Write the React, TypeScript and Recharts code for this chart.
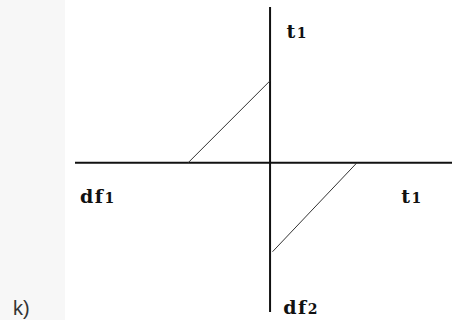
import { LineChart, Line, XAxis, YAxis, ReferenceLine, ReferenceDot, Label } from "recharts";

// upper-left segment: from the horizontal axis up to the vertical axis
const upperX = [-1.0, 0];
const upperY = [0, 1.0];
// lower-right segment: from the horizontal axis down to the vertical axis
const lowerX = [1.06, 0.03];
const lowerY = [0, -1.085];

// axis captions: main letters + small index
const captionText = ["t", "df", "t", "df"];
const captionIndex = ["1", "1", "1", "2"];
const captionX = [0.2, -2.32, 1.6, 0.16];
const captionY = [1.52, -0.49, -0.49, -1.84];

const upperData = upperX.map((x, i) => ({ x, y: upperY[i] }));
const lowerData = lowerX.map((x, i) => ({ x, y: lowerY[i] }));
const captions = captionText.map((t, i) => ({ t, sub: captionIndex[i], x: captionX[i], y: captionY[i] }));

const AXIS = "#111";
const SEG = "#333";

function caption(t: string, sub: string) {
  return (props: any) => {
    const { x, y } = props.viewBox;
    return (
      <text
        x={x}
        y={y}
        fill="#111"
        fontFamily="'DejaVu Serif', serif"
        fontWeight="bold"
        fontSize={19}
        letterSpacing={1.5}
      >
        {t}
        <tspan fontSize={14}>{sub}</tspan>
      </text>
    );
  };
}

export default function App() {
  return (
    <div
      style={{
        position: "absolute",
        left: 0,
        top: 0,
        width: 452,
        height: 320,
        background: "linear-gradient(to right, #f7f7f7 65px, #ffffff 65px)",
      }}
    >
      <LineChart width={452} height={320} margin={{ top: 7, right: 0, bottom: 8, left: 75 }}>
        <XAxis type="number" dataKey="x" domain={[-2.38, 2.22]} hide allowDataOverflow />
        <YAxis type="number" dataKey="y" domain={[-1.82, 1.9]} hide allowDataOverflow />
        <ReferenceLine x={0} stroke={AXIS} strokeWidth={2} />
        <ReferenceLine y={0} stroke={AXIS} strokeWidth={2} />
        <Line data={upperData} dataKey="y" stroke={SEG} strokeWidth={1} dot={false} isAnimationActive={false} />
        <Line data={lowerData} dataKey="y" stroke={SEG} strokeWidth={1} dot={false} isAnimationActive={false} />
        {captions.map((c, i) => (
          <ReferenceDot key={i} x={c.x} y={c.y} r={0} ifOverflow="visible">
            <Label content={caption(c.t, c.sub)} />
          </ReferenceDot>
        ))}
      </LineChart>
      <div
        style={{
          position: "absolute",
          left: 13,
          top: 297,
          fontFamily: "'Liberation Sans', Arial, sans-serif",
          fontSize: 20,
          color: "#333",
        }}
      >
        k)
      </div>
    </div>
  );
}
